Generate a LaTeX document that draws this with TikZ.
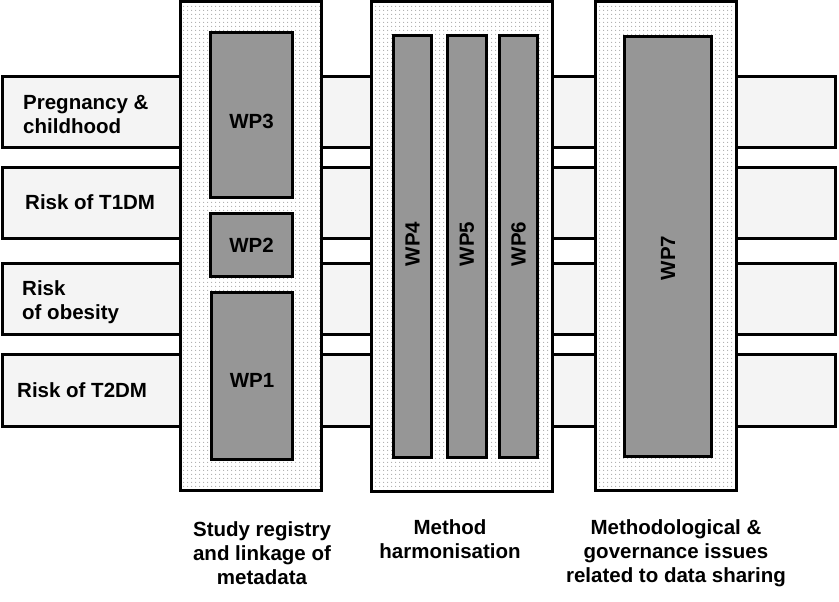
\documentclass[tikz,border=0pt]{standalone}
\usepackage{fontspec}
\setmainfont{Liberation Sans}
\usetikzlibrary{patterns.meta}
\definecolor{wpgray}{RGB}{150,150,150}
\definecolor{dotgray}{RGB}{170,170,170}
\definecolor{barfill}{RGB}{244,244,244}

\tikzset{
  bar/.style={line width=3pt,fill=barfill},
  column/.style={line width=3pt,preaction={fill=white},pattern={Dots[distance=4pt,radius=0.7pt]},pattern color=dotgray},
  wpbox/.style={line width=3pt,fill=wpgray},
  lbl/.style={inner sep=0pt,font=\fontsize{20.5}{24}\selectfont\bfseries}
}

\begin{document}
\begin{tikzpicture}[x=1pt,y=-1pt]
\useasboundingbox (0,0) rectangle (839,602);

% outcome bars
\draw [bar] (2.5,76.5) rectangle (835.5,147.5);
\draw [bar] (2.5,167.5) rectangle (835.5,238.5);
\draw [bar] (2.5,263.5) rectangle (835.5,334.5);
\draw [bar] (2.5,354.5) rectangle (835.5,426.5);

% bar labels
\node (preg) at (23,114.5) [lbl,anchor=west,align=left] {Pregnancy \&\\childhood};
\node (tone) at (25,202) [lbl,anchor=west] {Risk of T1DM};
\node (obes) at (22,302) [lbl,anchor=west,align=left] {Risk\\of obesity};
\node (ttwo) at (17,390) [lbl,anchor=west] {Risk of T2DM};

% work package columns
\draw [column] (180.5,1.5) rectangle (321.5,490.5);
\draw [column] (371.5,1.5) rectangle (552.5,491.5);
\draw [column] (595.5,1.5) rectangle (736.5,490.5);

% work packages
\draw [wpbox] (210.5,32.5) rectangle (292.5,197.5);
\draw [wpbox] (210.5,213.5) rectangle (292.5,276.5);
\draw [wpbox] (211.5,292.5) rectangle (292.5,459.5);
\draw [wpbox] (393.5,35.5) rectangle (431.5,457.5);
\draw [wpbox] (447.5,35.5) rectangle (486.5,457.5);
\draw [wpbox] (499.5,35.5) rectangle (537.5,457.5);
\draw [wpbox] (624.5,36.5) rectangle (711.5,456.5);

\node (wpthree) at (251.5,121) [lbl] {WP3};
\node (wptwo) at (251.5,245) [lbl] {WP2};
\node (wpone) at (252,380) [lbl] {WP1};
\node (wpfour) at (412.5,244) [lbl,rotate=90] {WP4};
\node (wpfive) at (467,244) [lbl,rotate=90] {WP5};
\node (wpsix) at (518.5,244) [lbl,rotate=90] {WP6};
\node (wpseven) at (668,258) [lbl,rotate=90] {WP7};

% column captions
\node (regis) at (262,521) [lbl,anchor=north,align=center] {Study registry\\and linkage of\\metadata};
\node (harmo) at (450,519) [lbl,anchor=north,align=center] {Method\\harmonisation};
\node (gover) at (676,519) [lbl,anchor=north,align=center] {Methodological \&\\governance issues\\related to data sharing};

\end{tikzpicture}
\end{document}
